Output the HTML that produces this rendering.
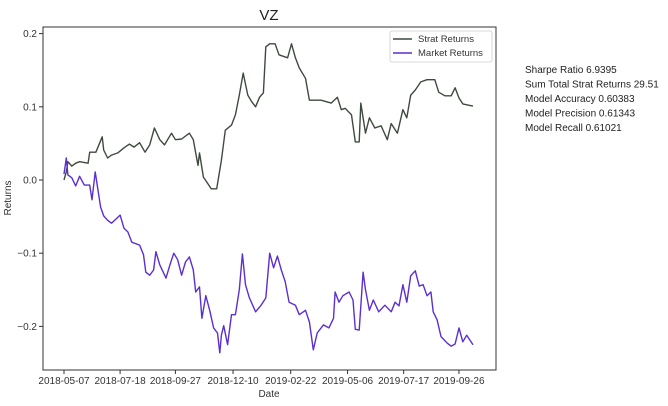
<!DOCTYPE html>
<html><head><meta charset="utf-8"><style>
body{margin:0;background:#fff;width:668px;height:401px;overflow:hidden}
svg{font-family:"Liberation Sans","DejaVu Sans",sans-serif}
</style></head><body>
<svg id="c" width="668" height="401"></svg>
<script>
const stratDays=[0,3,5,10,15,20,31,33,41,49,51,56,61,69,77,84,90,97,104,110,116,123,129,138,143,151,161,166,172,174,179,184,189,196,202,207,215,220,225,230,236,241,246,251,256,259,264,271,276,287,292,297,302,310,315,323,330,343,351,356,361,369,374,379,381,387,392,399,407,415,420,428,435,440,445,451,458,466,476,481,489,497,502,507,512,520,525];
const stratVals=[0,0.011,0.025,0.019,0.023,0.025,0.023,0.038,0.038,0.059,0.041,0.030,0.034,0.037,0.044,0.049,0.045,0.051,0.038,0.048,0.071,0.055,0.048,0.064,0.055,0.056,0.064,0.055,0.020,0.037,0.004,-0.004,-0.012,-0.012,0.027,0.068,0.075,0.089,0.116,0.146,0.116,0.107,0.100,0.113,0.119,0.182,0.186,0.186,0.171,0.167,0.186,0.167,0.153,0.139,0.109,0.109,0.109,0.105,0.113,0.096,0.098,0.089,0.052,0.052,0.105,0.064,0.085,0.071,0.074,0.055,0.077,0.064,0.096,0.085,0.116,0.123,0.134,0.137,0.137,0.120,0.115,0.115,0.126,0.112,0.104,0.102,0.101];
const marketDays=[0,3,5,10,15,20,26,33,36,40,47,51,56,61,72,77,82,87,97,102,105,110,115,118,123,131,136,141,146,151,156,161,166,169,174,177,182,187,192,197,200,202,205,210,215,220,225,229,233,238,246,253,259,264,269,274,279,284,289,297,302,310,315,320,325,333,340,346,348,353,358,366,371,374,379,384,387,392,397,404,412,420,425,430,435,440,445,451,456,461,466,471,474,479,484,492,497,502,507,512,517,525];
const marketVals=[0.008,0.030,0.007,0.003,-0.008,0.005,-0.007,-0.007,-0.027,0.011,-0.037,-0.049,-0.055,-0.059,-0.048,-0.066,-0.071,-0.085,-0.089,-0.102,-0.126,-0.130,-0.123,-0.098,-0.116,-0.134,-0.116,-0.100,-0.109,-0.130,-0.112,-0.105,-0.123,-0.153,-0.146,-0.189,-0.158,-0.178,-0.202,-0.209,-0.236,-0.212,-0.199,-0.225,-0.184,-0.184,-0.150,-0.101,-0.143,-0.161,-0.180,-0.171,-0.161,-0.100,-0.120,-0.104,-0.123,-0.139,-0.167,-0.171,-0.184,-0.178,-0.194,-0.232,-0.209,-0.198,-0.202,-0.189,-0.153,-0.167,-0.158,-0.153,-0.164,-0.204,-0.205,-0.126,-0.150,-0.178,-0.164,-0.180,-0.171,-0.180,-0.167,-0.172,-0.143,-0.167,-0.131,-0.124,-0.145,-0.143,-0.158,-0.153,-0.180,-0.191,-0.214,-0.223,-0.227,-0.224,-0.202,-0.221,-0.212,-0.225];
const xTickDays=[0,72,143,217,291,364,436,507];
const xTickLabels=["2018-05-07","2018-07-18","2018-09-27","2018-12-10","2019-02-22","2019-05-06","2019-07-17","2019-09-26"];
const yTicks=[0.2,0.1,0.0,-0.1,-0.2];
const yTickLabels=["0.2","0.1","0.0","\u22120.1","\u22120.2"];
const stats=["Sharpe Ratio 6.9395","Sum Total Strat Returns 29.51","Model Accuracy 0.60383","Model Precision 0.61343","Model Recall 0.61021"];

const NS="http://www.w3.org/2000/svg";
const svg=document.getElementById('c');
const L=43,R=496,T=27,B=370;
const xs=d=>64+d*0.779;
const ys=v=>180-v*732;
function mk(tag,attrs,parent){const e=document.createElementNS(NS,tag);for(const k in attrs)e.setAttribute(k,attrs[k]);(parent||svg).appendChild(e);return e;}

const title=mk('text',{x:269,y:20,'text-anchor':'middle','font-size':15,fill:'#222'});title.textContent='VZ';



const frame=mk('rect',{x:L,y:T,width:R-L,height:B-T,fill:'none',stroke:'#333','stroke-width':1});



xTickDays.forEach((d,i)=>{
  const x=xs(d);
  const t=mk('line',{x1:x,x2:x,y1:B,y2:B+4,stroke:'#333'});
  
  
  const lb=mk('text',{x:x,y:B+14,'text-anchor':'middle','font-size':10,fill:'#333'});lb.textContent=xTickLabels[i];
  
  
});
yTicks.forEach((v,i)=>{
  const y=ys(v);
  const t=mk('line',{x1:L-4,x2:L,y1:y,y2:y,stroke:'#333'});
  
  
  const lb=mk('text',{x:L-6,y:y+3.5,'text-anchor':'end','font-size':10,fill:'#333'});lb.textContent=yTickLabels[i];
  
  
});
const xt=mk('text',{x:269,y:397,'text-anchor':'middle','font-size':10,fill:'#333'});xt.textContent='Date';


const yt=mk('text',{x:0,y:0,transform:'translate(11,198) rotate(-90)','text-anchor':'middle','font-size':10,fill:'#333'});yt.textContent='Returns';



function series(days,vals,color,name){
  const d=days.map((dd,i)=>(i?'L':'M')+xs(dd).toFixed(1)+','+ys(vals[i]).toFixed(1)).join('');
  const p=mk('path',{d:d,fill:'none',stroke:color,'stroke-width':1.4,'stroke-linejoin':'round'});
  
  
}
series(stratDays,stratVals,'#3f4a3f','strat-returns-line');
series(marketDays,marketVals,'#5b2fd0','market-returns-line');

const lg=mk('g',{});


mk('rect',{x:390,y:31,width:102,height:31,fill:'#fff',stroke:'#ccc','stroke-width':0.8,rx:2},lg);
[['Strat Returns','#3f4a3f',42],['Market Returns','#5b2fd0',56]].forEach(e=>{
  const g=mk('g',{},lg);
  
  
  mk('line',{x1:393,x2:412,y1:e[2]-3,y2:e[2]-3,stroke:e[1],'stroke-width':1.4},g);
  const t=mk('text',{x:418,y:e[2],'font-size':9.5,fill:'#333'},g);t.textContent=e[0];
});

stats.forEach((s,i)=>{
  const t=mk('text',{x:525,y:73+i*14.5,'font-size':10,fill:'#222'});t.textContent=s;
  
  
});
</script>
</body></html>
